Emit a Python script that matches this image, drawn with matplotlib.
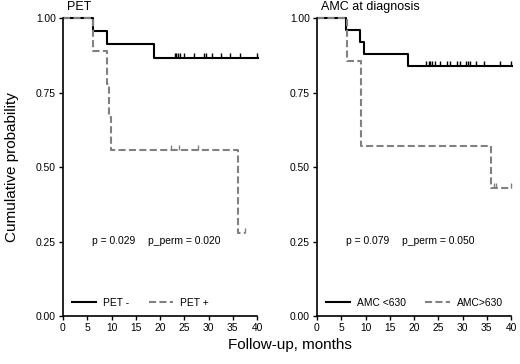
import matplotlib
matplotlib.use("Agg")
import matplotlib.pyplot as plt
import numpy as np

plt.rcParams['font.family'] = ['Liberation Sans', 'DejaVu Sans']

# ---- data ----
xticks = [0, 5, 10, 15, 20, 25, 30, 35, 40]
yticks = [0.00, 0.25, 0.50, 0.75, 1.00]
ytick_labels = ["0.00", "0.25", "0.50", "0.75", "1.00"]

# Panel 1: PET
pet_neg_t = [0, 6.2, 9.0, 18.8, 40.2]
pet_neg_s = [1.0, 0.956, 0.913, 0.867, 0.867]
pet_neg_cens_t = [23.0, 23.4, 23.8, 24.2, 25.0, 27.0, 29.0, 29.5, 30.8, 32.6, 34.4, 36.5, 39.9]
pet_neg_cens_s = 0.867

pet_pos_t = [0, 6.2, 9.0, 9.4, 9.9, 36.0, 37.5]
pet_pos_s = [1.0, 0.889, 0.778, 0.667, 0.556, 0.278, 0.278]
pet_pos_cens_t = [22.3, 24.0, 27.9]
pet_pos_cens_s = 0.556
pet_pos_cens2_t = [37.5]
pet_pos_cens2_s = 0.278

# Panel 2: AMC at diagnosis
amc_lo_t = [0, 6.0, 8.9, 9.6, 18.7, 40.2]
amc_lo_s = [1.0, 0.96, 0.92, 0.88, 0.838, 0.838]
amc_lo_cens_t = [22.5, 23.0, 23.4, 23.8, 24.4, 25.3, 26.8, 27.4, 28.9, 29.5,
                 30.8, 31.1, 31.5, 32.8, 34.4, 37.8, 39.9]
amc_lo_cens_s = 0.838

amc_hi_t = [0, 6.1, 9.0, 35.9, 40.2]
amc_hi_s = [1.0, 0.857, 0.571, 0.429, 0.429]
amc_hi_cens_t = [36.4, 37.0, 40.0]
amc_hi_cens_s = 0.429

panels = [
    dict(title="PET", labels=["PET -", "PET +"], p="p = 0.029", pperm="p_perm = 0.020",
         solid=(pet_neg_t, pet_neg_s, [(pet_neg_cens_t, pet_neg_cens_s)]),
         dashed=(pet_pos_t, pet_pos_s, [(pet_pos_cens_t, pet_pos_cens_s),
                                         (pet_pos_cens2_t, pet_pos_cens2_s)]),
         left=63),
    dict(title="AMC at diagnosis", labels=["AMC <630", "AMC>630"], p="p = 0.079",
         pperm="p_perm = 0.050",
         solid=(amc_lo_t, amc_lo_s, [(amc_lo_cens_t, amc_lo_cens_s)]),
         dashed=(amc_hi_t, amc_hi_s, [(amc_hi_cens_t, amc_hi_cens_s)]),
         left=317),
]

W, H = 520, 364
fig = plt.figure(figsize=(W / 100, H / 100), dpi=100)

FS = 7.4
GRAY = "#808080"
px_per_unit = 4.85
y0_px, y1_px = 316, 18

for pn in panels:
    xmax = 41
    ytop = 1.02
    unit_y = (y0_px - y1_px)
    left = pn['left'] / W
    width = xmax * px_per_unit / W
    bottom = (H - y0_px) / H
    height = ytop * unit_y / H
    ax = fig.add_axes([left, bottom, width, height])
    ax.set_xlim(0, xmax)
    ax.set_ylim(0, ytop)

    t, s, cens = pn['solid']
    l1, = ax.step(t, s, where='post', color='black', lw=1.5, label=pn['labels'][0])
    for ct, cs in cens:
        ax.plot(ct, [cs] * len(ct), linestyle='none', marker=2, markersize=3.8,
                markeredgewidth=1.0, color='black')
    t, s, cens = pn['dashed']
    l2, = ax.step(t, s, where='post', color=GRAY, lw=1.5, dashes=(3.4, 1.6),
                  label=pn['labels'][1])
    for ct, cs in cens:
        ax.plot(ct, [cs] * len(ct), linestyle='none', marker=2, markersize=3.8,
                markeredgewidth=1.0, color=GRAY)

    for sp in ['top', 'right']:
        ax.spines[sp].set_visible(False)
    ax.spines['left'].set_bounds(0, 1)
    ax.spines['bottom'].set_bounds(0, 40)
    ax.spines['left'].set_linewidth(1.2)
    ax.spines['bottom'].set_linewidth(1.2)
    ax.set_xticks(xticks)
    ax.set_xticklabels([str(v) for v in xticks], fontsize=FS)
    ax.set_yticks(yticks)
    ax.set_yticklabels(ytick_labels, fontsize=FS)
    ax.tick_params(length=3, width=1.0, pad=2)

    ax.text(5.9, 0.25, pn['p'], fontsize=FS, va='center', ha='left')
    ax.text(17.6, 0.25, pn['pperm'], fontsize=FS, va='center', ha='left')
    ax.text(0.8, 1.036, pn['title'], fontsize=9, va='center', ha='left', clip_on=False)

    ax.legend(handles=[l1, l2], ncol=2, frameon=False, loc='center left',
              bbox_to_anchor=(0.043, 0.044), borderpad=0, borderaxespad=0,
              handlelength=2.4, handletextpad=0.65, columnspacing=1.9,
              fontsize=FS)

fig.text(0.023, 0.541, "Cumulative probability", rotation=90, fontsize=11,
         ha='center', va='center')
fig.text(0.558, 0.052, "Follow-up, months", fontsize=11, ha='center', va='center')

fig.savefig("out.png", dpi=100)
